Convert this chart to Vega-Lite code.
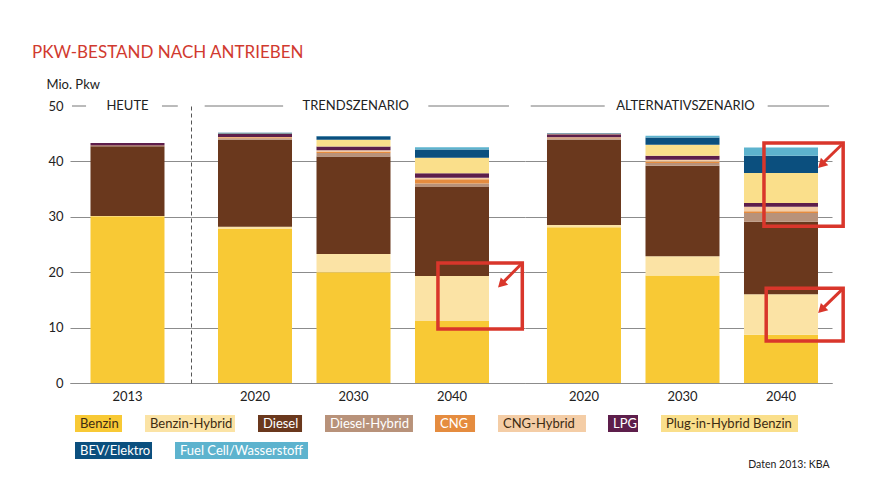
{
  "$schema": "https://vega.github.io/schema/vega-lite/v6.json",
  "background": "white",
  "padding": {"left": 32, "top": 44, "right": 5, "bottom": 5},
  "config": {
    "font": "Lato",
    "view": {"stroke": null},
    "axis": {"labelFont": "Lato", "titleFont": "Lato", "labelColor": "#222222", "titleColor": "#222222", "labelFontSize": 13, "titleFontWeight": "normal"}
  },
  "title": {"text": "PKW-BESTAND NACH ANTRIEBEN", "anchor": "start", "font": "Lato", "fontSize": 17, "fontWeight": "normal", "color": "#d13a2f", "offset": 16, "dx": -14},
  "data": {"values": [
    {"szenario": "Heute", "jahr": "2013", "antrieb": "Benzin", "mio": 30.1},
    {"szenario": "Heute", "jahr": "2013", "antrieb": "Benzin-Hybrid", "mio": 0.05},
    {"szenario": "Heute", "jahr": "2013", "antrieb": "Diesel", "mio": 12.6},
    {"szenario": "Heute", "jahr": "2013", "antrieb": "Diesel-Hybrid", "mio": 0.03},
    {"szenario": "Heute", "jahr": "2013", "antrieb": "CNG", "mio": 0.08},
    {"szenario": "Heute", "jahr": "2013", "antrieb": "CNG-Hybrid", "mio": 0},
    {"szenario": "Heute", "jahr": "2013", "antrieb": "LPG", "mio": 0.45},
    {"szenario": "Heute", "jahr": "2013", "antrieb": "Plug-in-Hybrid Benzin", "mio": 0},
    {"szenario": "Heute", "jahr": "2013", "antrieb": "BEV/Elektro", "mio": 0.02},
    {"szenario": "Heute", "jahr": "2013", "antrieb": "Fuel Cell/Wasserstoff", "mio": 0},

    {"szenario": "Trend", "jahr": "2020", "antrieb": "Benzin", "mio": 27.8},
    {"szenario": "Trend", "jahr": "2020", "antrieb": "Benzin-Hybrid", "mio": 0.4},
    {"szenario": "Trend", "jahr": "2020", "antrieb": "Diesel", "mio": 15.7},
    {"szenario": "Trend", "jahr": "2020", "antrieb": "Diesel-Hybrid", "mio": 0.3},
    {"szenario": "Trend", "jahr": "2020", "antrieb": "CNG", "mio": 0.15},
    {"szenario": "Trend", "jahr": "2020", "antrieb": "CNG-Hybrid", "mio": 0.05},
    {"szenario": "Trend", "jahr": "2020", "antrieb": "LPG", "mio": 0.55},
    {"szenario": "Trend", "jahr": "2020", "antrieb": "Plug-in-Hybrid Benzin", "mio": 0.1},
    {"szenario": "Trend", "jahr": "2020", "antrieb": "BEV/Elektro", "mio": 0.1},
    {"szenario": "Trend", "jahr": "2020", "antrieb": "Fuel Cell/Wasserstoff", "mio": 0},

    {"szenario": "Trend", "jahr": "2030", "antrieb": "Benzin", "mio": 20.0},
    {"szenario": "Trend", "jahr": "2030", "antrieb": "Benzin-Hybrid", "mio": 3.3},
    {"szenario": "Trend", "jahr": "2030", "antrieb": "Diesel", "mio": 17.6},
    {"szenario": "Trend", "jahr": "2030", "antrieb": "Diesel-Hybrid", "mio": 0.6},
    {"szenario": "Trend", "jahr": "2030", "antrieb": "CNG", "mio": 0.3},
    {"szenario": "Trend", "jahr": "2030", "antrieb": "CNG-Hybrid", "mio": 0.2},
    {"szenario": "Trend", "jahr": "2030", "antrieb": "LPG", "mio": 0.7},
    {"szenario": "Trend", "jahr": "2030", "antrieb": "Plug-in-Hybrid Benzin", "mio": 1.2},
    {"szenario": "Trend", "jahr": "2030", "antrieb": "BEV/Elektro", "mio": 0.65},
    {"szenario": "Trend", "jahr": "2030", "antrieb": "Fuel Cell/Wasserstoff", "mio": 0.05},

    {"szenario": "Trend", "jahr": "2040", "antrieb": "Benzin", "mio": 11.2},
    {"szenario": "Trend", "jahr": "2040", "antrieb": "Benzin-Hybrid", "mio": 8.1},
    {"szenario": "Trend", "jahr": "2040", "antrieb": "Diesel", "mio": 16.1},
    {"szenario": "Trend", "jahr": "2040", "antrieb": "Diesel-Hybrid", "mio": 0.6},
    {"szenario": "Trend", "jahr": "2040", "antrieb": "CNG", "mio": 0.8},
    {"szenario": "Trend", "jahr": "2040", "antrieb": "CNG-Hybrid", "mio": 0.25},
    {"szenario": "Trend", "jahr": "2040", "antrieb": "LPG", "mio": 0.8},
    {"szenario": "Trend", "jahr": "2040", "antrieb": "Plug-in-Hybrid Benzin", "mio": 2.8},
    {"szenario": "Trend", "jahr": "2040", "antrieb": "BEV/Elektro", "mio": 1.5},
    {"szenario": "Trend", "jahr": "2040", "antrieb": "Fuel Cell/Wasserstoff", "mio": 0.4},

    {"szenario": "Alternativ", "jahr": "2020", "antrieb": "Benzin", "mio": 28.1},
    {"szenario": "Alternativ", "jahr": "2020", "antrieb": "Benzin-Hybrid", "mio": 0.4},
    {"szenario": "Alternativ", "jahr": "2020", "antrieb": "Diesel", "mio": 15.4},
    {"szenario": "Alternativ", "jahr": "2020", "antrieb": "Diesel-Hybrid", "mio": 0.3},
    {"szenario": "Alternativ", "jahr": "2020", "antrieb": "CNG", "mio": 0.1},
    {"szenario": "Alternativ", "jahr": "2020", "antrieb": "CNG-Hybrid", "mio": 0.05},
    {"szenario": "Alternativ", "jahr": "2020", "antrieb": "LPG", "mio": 0.55},
    {"szenario": "Alternativ", "jahr": "2020", "antrieb": "Plug-in-Hybrid Benzin", "mio": 0.1},
    {"szenario": "Alternativ", "jahr": "2020", "antrieb": "BEV/Elektro", "mio": 0.1},
    {"szenario": "Alternativ", "jahr": "2020", "antrieb": "Fuel Cell/Wasserstoff", "mio": 0},

    {"szenario": "Alternativ", "jahr": "2030", "antrieb": "Benzin", "mio": 19.4},
    {"szenario": "Alternativ", "jahr": "2030", "antrieb": "Benzin-Hybrid", "mio": 3.5},
    {"szenario": "Alternativ", "jahr": "2030", "antrieb": "Diesel", "mio": 16.3},
    {"szenario": "Alternativ", "jahr": "2030", "antrieb": "Diesel-Hybrid", "mio": 0.5},
    {"szenario": "Alternativ", "jahr": "2030", "antrieb": "CNG", "mio": 0.3},
    {"szenario": "Alternativ", "jahr": "2030", "antrieb": "CNG-Hybrid", "mio": 0.3},
    {"szenario": "Alternativ", "jahr": "2030", "antrieb": "LPG", "mio": 0.7},
    {"szenario": "Alternativ", "jahr": "2030", "antrieb": "Plug-in-Hybrid Benzin", "mio": 2.0},
    {"szenario": "Alternativ", "jahr": "2030", "antrieb": "BEV/Elektro", "mio": 1.3},
    {"szenario": "Alternativ", "jahr": "2030", "antrieb": "Fuel Cell/Wasserstoff", "mio": 0.35},

    {"szenario": "Alternativ", "jahr": "2040", "antrieb": "Benzin", "mio": 8.7},
    {"szenario": "Alternativ", "jahr": "2040", "antrieb": "Benzin-Hybrid", "mio": 7.3},
    {"szenario": "Alternativ", "jahr": "2040", "antrieb": "Diesel", "mio": 13.1},
    {"szenario": "Alternativ", "jahr": "2040", "antrieb": "Diesel-Hybrid", "mio": 1.6},
    {"szenario": "Alternativ", "jahr": "2040", "antrieb": "CNG", "mio": 0.3},
    {"szenario": "Alternativ", "jahr": "2040", "antrieb": "CNG-Hybrid", "mio": 0.8},
    {"szenario": "Alternativ", "jahr": "2040", "antrieb": "LPG", "mio": 0.7},
    {"szenario": "Alternativ", "jahr": "2040", "antrieb": "Plug-in-Hybrid Benzin", "mio": 5.4},
    {"szenario": "Alternativ", "jahr": "2040", "antrieb": "BEV/Elektro", "mio": 3.1},
    {"szenario": "Alternativ", "jahr": "2040", "antrieb": "Fuel Cell/Wasserstoff", "mio": 1.5}
  ]},
  "transform": [
    {"calculate": "indexof(['Benzin','Benzin-Hybrid','Diesel','Diesel-Hybrid','CNG','CNG-Hybrid','LPG','Plug-in-Hybrid Benzin','BEV/Elektro','Fuel Cell/Wasserstoff'], datum.antrieb)", "as": "rang"}
  ],
  "spacing": 0,
  "resolve": {"scale": {"x": "independent", "y": "shared", "color": "shared", "fill": "shared"}},
  "hconcat": [
    {
      "width": 121, "height": 277,
      "layer": [
        {
          "transform": [{"filter": "datum.szenario === 'Heute'"}],
          "mark": {"type": "bar"},
          "encoding": {
            "x": {"field": "jahr", "type": "nominal", "scale": {"paddingInner": 0, "paddingOuter": 0.3176, "align": 0.436},
                  "axis": {"title": null, "labelAngle": 0, "ticks": false, "domain": true, "domainColor": "#8c8c8c", "labelPadding": 7}},
            "y": {"field": "mio", "type": "quantitative", "stack": "zero", "scale": {"domain": [0, 50]},
                  "axis": {"values": [0, 10, 20, 30, 40, 50], "labelPadding": 7, "ticks": false, "domain": false, "grid": true, "gridColor": "#8c8c8c",
                           "gridOpacity": {"condition": {"test": "datum.value === 50", "value": 0}, "value": 1},
                           "title": "Mio. Pkw", "titleAngle": 0, "titleX": -24, "titleY": -18, "titleAlign": "left", "titleBaseline": "alphabetic", "titleFontSize": 13}},
            "color": {"field": "antrieb", "type": "nominal",
              "scale": {"domain": ["Benzin","Benzin-Hybrid","Diesel","Diesel-Hybrid","CNG","CNG-Hybrid","LPG","Plug-in-Hybrid Benzin","BEV/Elektro","Fuel Cell/Wasserstoff"],
                        "range": ["#f8c935","#fbe3a5","#6a381d","#b8927a","#e58c3f","#f4cda6","#5d1e4b","#fadf8b","#0b4f7e","#5db3ce"]},
              "legend": {"orient": "none", "legendX": 5, "legendY": 309, "direction": "horizontal", "columns": 8,
                         "values": ["Benzin","Benzin-Hybrid","Diesel","Diesel-Hybrid","CNG","CNG-Hybrid","LPG","Plug-in-Hybrid Benzin"],
                         "columnPadding": 22, "rowPadding": 10, "title": null, "padding": 0, "symbolSize": 289, "symbolStrokeWidth": 0,
                         "symbolOffset": 0, "symbolOpacity": 1, "labelOffset": -12, "labelFont": "Lato", "labelFontSize": 13, "labelBaseline": "middle", "labelLimit": 300,
                         "encode": {
                           "symbols": {"update": {"shape": {"signal": "['M-1,-1H4.53V1H-1Z','M-1,-1H9.59V1H-1Z','M-1,-1H4.18V1H-1Z','M-1,-1H9.35V1H-1Z','M-1,-1H3.71V1H-1Z','M-1,-1H9.35V1H-1Z','M-1,-1H2.53V1H-1Z','M-1,-1H15.12V1H-1Z','M-1,-1H8.06V1H-1Z','M-1,-1H14.65V1H-1Z'][indexof(['Benzin','Benzin-Hybrid','Diesel','Diesel-Hybrid','CNG','CNG-Hybrid','LPG','Plug-in-Hybrid Benzin','BEV/Elektro','Fuel Cell/Wasserstoff'], datum.value)]"}}},
                           "labels": {"update": {"fill": {"signal": "indexof(['Diesel','Diesel-Hybrid','CNG','LPG','BEV/Elektro','Fuel Cell/Wasserstoff'], datum.label) >= 0 ? '#ffffff' : '#3d2b12'"}}}
                         }}},
            "order": {"field": "rang", "type": "quantitative", "sort": "ascending"}
          }
        },
        {
          "transform": [{"filter": "datum.mio < 0"}],
          "mark": {"type": "point", "filled": true},
          "encoding": {
            "fill": {"field": "antrieb", "type": "nominal",
              "scale": {"domain": ["BEV/Elektro","Fuel Cell/Wasserstoff"], "range": ["#0b4f7e","#5db3ce"]},
              "legend": {"orient": "none", "legendX": 5, "legendY": 336, "direction": "horizontal", "columns": 2,
                         "columnPadding": 22, "title": null, "padding": 0, "symbolSize": 289, "symbolStrokeWidth": 0,
                         "symbolOffset": 0, "symbolOpacity": 1, "labelOffset": -12, "labelFont": "Lato", "labelFontSize": 13, "labelBaseline": "middle", "labelLimit": 300, "labelColor": "#ffffff",
                         "encode": {
                           "symbols": {"update": {"shape": {"signal": "datum.value === 'BEV/Elektro' ? 'M-1,-1H8.06V1H-1Z' : 'M-1,-1H14.65V1H-1Z'"}}}
                         }}}
          }
        },
        {
          "data": {"values": [{}]},
          "mark": {"type": "rule", "color": "#777777", "strokeWidth": 1},
          "encoding": {"x": {"datum": "2013", "bandPosition": -0.25}, "x2": {"datum": "2013", "bandPosition": -0.06}, "y": {"datum": 50}}
        },
        {
          "data": {"values": [{}]},
          "mark": {"type": "rule", "color": "#777777", "strokeWidth": 1},
          "encoding": {"x": {"datum": "2013", "bandPosition": 0.966}, "x2": {"datum": "2013", "bandPosition": 1.18}, "y": {"datum": 50}}
        },
        {
          "data": {"values": [{"kopf": "HEUTE"}]},
          "mark": {"type": "text", "fontSize": 13, "color": "#222222", "baseline": "middle", "font": "Lato"},
          "encoding": {"x": {"datum": "2013"}, "y": {"datum": 50}, "text": {"field": "kopf"}}
        }
      ]
    },
    {
      "width": 334, "height": 277,
      "layer": [
        {
          "transform": [{"filter": "datum.szenario === 'Trend'"}],
          "mark": {"type": "bar"},
          "encoding": {
            "x": {"field": "jahr", "type": "nominal", "scale": {"paddingInner": 0.2487, "paddingOuter": 0.3198, "align": 0.4286},
                  "axis": {"title": null, "labelAngle": 0, "ticks": false, "domain": true, "domainColor": "#8c8c8c", "labelPadding": 7}},
            "y": {"field": "mio", "type": "quantitative", "stack": "zero",
                  "axis": {"values": [0, 10, 20, 30, 40, 50], "labels": false, "ticks": false, "domain": true, "domainDash": [4, 3], "domainColor": "#555555", "grid": true, "gridColor": "#8c8c8c",
                           "gridOpacity": {"condition": {"test": "datum.value === 50", "value": 0}, "value": 1}, "title": null}},
            "color": {"field": "antrieb", "type": "nominal"},
            "order": {"field": "rang", "type": "quantitative", "sort": "ascending"}
          }
        },
        {
          "data": {"values": [{}]},
          "mark": {"type": "rule", "color": "#777777", "strokeWidth": 1},
          "encoding": {"x": {"datum": "2020", "bandPosition": -0.18}, "x2": {"datum": "2020", "bandPosition": 0.88}, "y": {"datum": 50}}
        },
        {
          "data": {"values": [{}]},
          "mark": {"type": "rule", "color": "#777777", "strokeWidth": 1},
          "encoding": {"x": {"datum": "2040", "bandPosition": 0.18}, "x2": {"datum": "2040", "bandPosition": 1.27}, "y": {"datum": 50}}
        },
        {
          "data": {"values": [{"kopf": "TRENDSZENARIO"}]},
          "mark": {"type": "text", "fontSize": 13, "color": "#222222", "baseline": "middle", "font": "Lato"},
          "encoding": {"x": {"datum": "2030", "bandPosition": 0.53}, "y": {"datum": 50}, "text": {"field": "kopf"}}
        },
        {
          "data": {"values": [{}]},
          "mark": {"type": "rect", "filled": false, "color": "#d9362b", "strokeWidth": 3.5},
          "encoding": {"x": {"datum": "2040", "bandPosition": 0.31}, "x2": {"datum": "2040", "bandPosition": 1.45}, "y": {"datum": 21.66}, "y2": {"datum": 9.75}}
        },
        {
          "data": {"values": [{}]},
          "mark": {"type": "rule", "color": "#d9362b", "strokeWidth": 3},
          "encoding": {"x": {"datum": "2040", "bandPosition": 1.43}, "x2": {"datum": "2040", "bandPosition": 1.2}, "y": {"datum": 21.4}, "y2": {"datum": 18.3}}
        },
        {
          "data": {"values": [{}]},
          "mark": {"type": "point", "shape": "triangle", "angle": 225, "size": 110, "filled": true, "opacity": 1, "color": "#d9362b"},
          "encoding": {"x": {"datum": "2040", "bandPosition": 1.18}, "y": {"datum": 18.0}}
        }
      ]
    },
    {
      "width": 307, "height": 277,
      "layer": [
        {
          "transform": [{"filter": "datum.szenario === 'Alternativ'"}],
          "mark": {"type": "bar"},
          "encoding": {
            "x": {"field": "jahr", "type": "nominal", "scale": {"paddingInner": 0.2487, "paddingOuter": 0.1827, "align": 0.611},
                  "axis": {"title": "Daten 2013: KBA", "labelAngle": 0, "ticks": false, "domain": true, "domainColor": "#8c8c8c", "labelPadding": 7,
                           "titleAnchor": "end", "titleAlign": "right", "titleX": 304, "titleY": 84, "titleBaseline": "alphabetic", "titleFontSize": 10.5, "titleFontWeight": "normal"}},
            "y": {"field": "mio", "type": "quantitative", "stack": "zero",
                  "axis": {"values": [0, 10, 20, 30, 40, 50], "labels": false, "ticks": false, "domain": false, "grid": true, "gridColor": "#8c8c8c",
                           "gridOpacity": {"condition": {"test": "datum.value === 50", "value": 0}, "value": 1}, "title": null}},
            "color": {"field": "antrieb", "type": "nominal"},
            "order": {"field": "rang", "type": "quantitative", "sort": "ascending"}
          }
        },
        {
          "data": {"values": [{}]},
          "mark": {"type": "rule", "color": "#777777", "strokeWidth": 1},
          "encoding": {"x": {"datum": "2020", "bandPosition": -0.22}, "x2": {"datum": "2020", "bandPosition": 0.78}, "y": {"datum": 50}}
        },
        {
          "data": {"values": [{}]},
          "mark": {"type": "rule", "color": "#777777", "strokeWidth": 1},
          "encoding": {"x": {"datum": "2040", "bandPosition": 0.32}, "x2": {"datum": "2040", "bandPosition": 1.15}, "y": {"datum": 50}}
        },
        {
          "data": {"values": [{"kopf": "ALTERNATIVSZENARIO"}]},
          "mark": {"type": "text", "fontSize": 13, "color": "#222222", "baseline": "middle", "font": "Lato"},
          "encoding": {"x": {"datum": "2030", "bandPosition": 0.54}, "y": {"datum": 50}, "text": {"field": "kopf"}}
        },
        {
          "data": {"values": [{}]},
          "mark": {"type": "rect", "filled": false, "color": "#d9362b", "strokeWidth": 3.5},
          "encoding": {"x": {"datum": "2040", "bandPosition": 0.27}, "x2": {"datum": "2040", "bandPosition": 1.34}, "y": {"datum": 43.3}, "y2": {"datum": 28.3}}
        },
        {
          "data": {"values": [{}]},
          "mark": {"type": "rect", "filled": false, "color": "#d9362b", "strokeWidth": 3.5},
          "encoding": {"x": {"datum": "2040", "bandPosition": 0.30}, "x2": {"datum": "2040", "bandPosition": 1.34}, "y": {"datum": 17.1}, "y2": {"datum": 7.6}}
        },
        {
          "data": {"values": [{}]},
          "mark": {"type": "rule", "color": "#d9362b", "strokeWidth": 3},
          "encoding": {"x": {"datum": "2040", "bandPosition": 1.32}, "x2": {"datum": "2040", "bandPosition": 1.08}, "y": {"datum": 43.0}, "y2": {"datum": 39.9}}
        },
        {
          "data": {"values": [{}]},
          "mark": {"type": "point", "shape": "triangle", "angle": 225, "size": 110, "filled": true, "opacity": 1, "color": "#d9362b"},
          "encoding": {"x": {"datum": "2040", "bandPosition": 1.06}, "y": {"datum": 39.6}}
        },
        {
          "data": {"values": [{}]},
          "mark": {"type": "rule", "color": "#d9362b", "strokeWidth": 3},
          "encoding": {"x": {"datum": "2040", "bandPosition": 1.32}, "x2": {"datum": "2040", "bandPosition": 1.08}, "y": {"datum": 16.8}, "y2": {"datum": 13.7}}
        },
        {
          "data": {"values": [{}]},
          "mark": {"type": "point", "shape": "triangle", "angle": 225, "size": 110, "filled": true, "opacity": 1, "color": "#d9362b"},
          "encoding": {"x": {"datum": "2040", "bandPosition": 1.06}, "y": {"datum": 13.4}}
        }
      ]
    }
  ]
}
